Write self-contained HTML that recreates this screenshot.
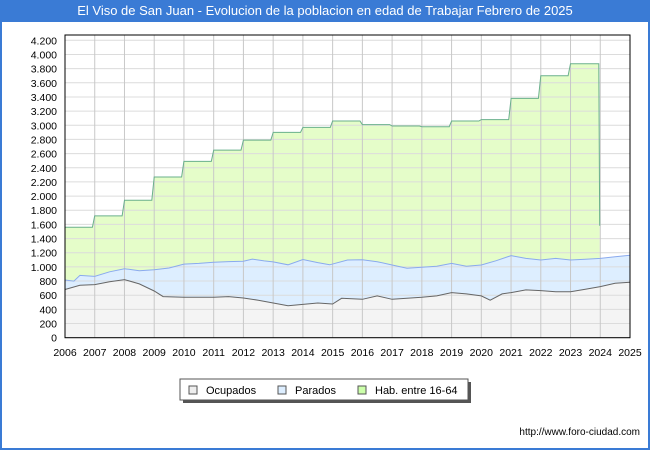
<!DOCTYPE html>
<html><head><meta charset="utf-8"><style>
body{margin:0;background:#fff;font-family:"Liberation Sans","DejaVu Sans",sans-serif}
#wrap{position:relative;width:650px;height:450px;box-sizing:border-box;border:2px solid #3a7bd5;border-top:none;overflow:hidden}
#title{position:absolute;left:0;top:0;width:646px;height:22px;background:#3a7bd5;color:#fff;font-size:13px;line-height:22px;text-align:center}
#url{position:absolute;right:8px;top:427px;font-size:10px;color:#000}
</style></head><body>
<div id="wrap">
<div id="title">El Viso de San Juan - Evolucion de la poblacion en edad de Trabajar Febrero de 2025</div>
<svg id="svg" width="650" height="450" style="position:absolute;left:-2px;top:0"></svg>
<div id="url">http://www.foro-ciudad.com</div>
</div>
<script>
const years=[2006,2007,2008,2009,2010,2011,2012,2013,2014,2015,2016,2017,2018,2019,2020,2021,2022,2023,2024,2025];
const yTicks=[0,200,400,600,800,1000,1200,1400,1600,1800,2000,2200,2400,2600,2800,3000,3200,3400,3600,3800,4000,4200];
const habYears=[2006,2007,2008,2009,2010,2011,2012,2013,2014,2015,2016,2017,2018,2019,2020,2021,2022,2023];
const habValues=[1560,1720,1940,2270,2490,2650,2790,2900,2970,3060,3010,2990,2980,3060,3080,3380,3700,3870];
const habEndValue=1580;
const actT=[2006,2006.3,2006.5,2007,2007.5,2008,2008.5,2009,2009.5,2010,2010.5,2011,2011.5,2012,2012.3,2012.7,2013,2013.5,2014,2014.5,2014.9,2015.5,2016,2016.5,2017,2017.5,2018,2018.5,2019,2019.5,2020,2020.5,2021,2021.5,2022,2022.5,2023,2023.5,2024,2024.5,2025];
const actV=[815,800,880,865,930,975,945,960,985,1040,1050,1065,1075,1080,1110,1085,1070,1030,1105,1060,1030,1097,1100,1073,1027,980,995,1010,1050,1010,1027,1088,1160,1120,1097,1120,1097,1107,1120,1144,1165];
const ocuT=[2006,2006.5,2007,2007.5,2008,2008.5,2009,2009.3,2010,2011,2011.5,2012,2012.5,2013,2013.5,2014,2014.5,2015,2015.3,2016,2016.5,2017,2017.5,2018,2018.5,2019,2019.5,2020,2020.3,2020.7,2021,2021.5,2022,2022.5,2023,2023.5,2024,2024.5,2025];
const ocuV=[680,740,750,790,820,760,660,580,570,570,580,560,530,490,450,470,490,476,556,543,590,543,556,570,590,637,618,590,530,618,637,675,665,650,650,683,721,768,782];
const L=65,R=630,T=35,B=337.7;
const X=t=>L+(t-2006)/19*(R-L);
const Y=v=>B-v*(B-40.3)/4200;
const svg=document.getElementById('svg');const NS='http://www.w3.org/2000/svg';
function mk(tag,at,name,txt){const e=document.createElementNS(NS,tag);for(const k in at)e.setAttribute(k,at[k]);


if(txt!==undefined)e.textContent=txt;svg.appendChild(e);return e;}
let hp=[];habYears.forEach((y,i)=>{hp.push([X(y),Y(habValues[i])]);const nx=(i<habYears.length-1)?y+0.92:y+0.95;hp.push([X(nx),Y(habValues[i])]);});
hp.push([X(2023.98),Y(habEndValue)]);
const actPts=actT.map((t,i)=>[X(t),Y(actV[i])]);
const ocuPts=ocuT.map((t,i)=>[X(t),Y(ocuV[i])]);
const P=a=>a.map(p=>p[0].toFixed(1)+','+p[1].toFixed(1)).join(' ');
mk('rect',{x:L,y:T,width:R-L,height:B-T,fill:'#fff'},'plot-background');
mk('polygon',{points:P(hp)+' '+X(2023.98).toFixed(1)+','+B+' '+L+','+B,fill:'#e5fdc9'},'hab-area');
mk('polygon',{points:P(actPts)+' '+R+','+B+' '+L+','+B,fill:'#ddeeff'},'parados-area');
mk('polygon',{points:P(ocuPts)+' '+R+','+B+' '+L+','+B,fill:'#f4f4f4'},'ocupados-area');
yTicks.forEach(v=>{mk('line',{x1:L,x2:R,y1:Y(v),y2:Y(v),stroke:'#dcdcdc','stroke-width':1},'y-gridline');
mk('text',{x:L-8,y:Y(v)+4,'text-anchor':'end','font-size':10.5,fill:'#000'},'y-tick-label',v===0?'0':v.toLocaleString('de-DE'));});
years.forEach(y=>{mk('line',{x1:X(y),x2:X(y),y1:T,y2:B,stroke:'#c8c8c8','stroke-width':1},'x-gridline');
mk('text',{x:X(y),y:356,'text-anchor':'middle','font-size':10.5,fill:'#000'},'x-tick-label',String(y));});
mk('polyline',{points:P(hp),fill:'none',stroke:'#6ab08c','stroke-width':1},'hab-line');
mk('polyline',{points:P(actPts),fill:'none',stroke:'#8aaaee','stroke-width':1},'parados-line');
mk('polyline',{points:P(ocuPts),fill:'none',stroke:'#666','stroke-width':1},'ocupados-line');
mk('rect',{x:L,y:T,width:R-L,height:B-T,fill:'none',stroke:'#000','stroke-width':1},'plot-border');
mk('rect',{x:183,y:382,width:288,height:21,fill:'#555'},'legend-shadow');
mk('rect',{x:180,y:379,width:288,height:21,fill:'#fff',stroke:'#555'},'legend-box');
[['Ocupados','#eeeeee',189],['Parados','#ddeeff',278],['Hab. entre 16-64','#ccffaa',358]].forEach(([n,c,x])=>{
mk('rect',{x:x,y:386,width:8,height:8,fill:c,stroke:'#555'},'legend-swatch');
mk('text',{x:x+17,y:394,'font-size':11,fill:'#000'},'legend-label',n);});
</script>
</body></html>
